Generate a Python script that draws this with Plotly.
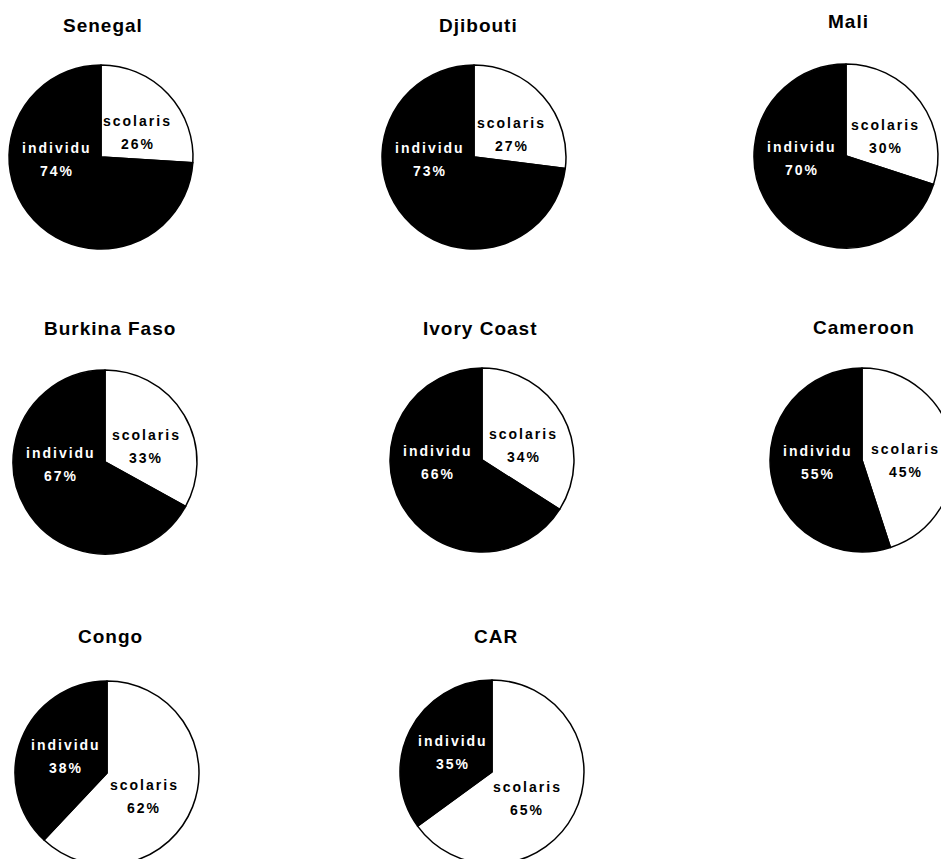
import math
import plotly.graph_objects as go

# ---- data ----
countries = ["Senegal", "Djibouti", "Mali", "Burkina Faso",
             "Ivory Coast", "Cameroon", "Congo", "CAR"]
categories = ["scolaris", "individu"]
scolaris = [26, 27, 30, 33, 34, 45, 62, 65]
individu = [74, 73, 70, 67, 66, 55, 38, 35]

# ---- layout constants (pixels from top-left of page) ----
W, H = 960, 880
centers = [(101, 157), (474, 157), (846, 156),
           (105, 462), (482, 460), (862, 460),
           (107, 773), (492, 772)]
R = 92
title_pos = [(103, 25), (478, 25), (848, 21),
             (110, 328), (480, 328), (864, 327),
             (110, 636), (496, 636)]

FONT = "Liberation Sans, Arial, sans-serif"


def px2paper(x, y):
    return x / W, 1 - y / H


def spaced(s, sp):
    return f"<span style='letter-spacing:{sp}px'>{s}</span>"


fig = go.Figure()
annotations = []

for i, name in enumerate(countries):
    cx, cy = centers[i]
    vals = [scolaris[i], individu[i]]
    x0, y1 = px2paper(cx - R, cy - R)
    x1, y0 = px2paper(cx + R, cy + R)
    fig.add_trace(go.Pie(
        labels=categories,
        values=vals,
        sort=False,
        direction="clockwise",
        rotation=0,
        marker=dict(colors=["#ffffff", "#000000"],
                    line=dict(color="#000000", width=1.5)),
        textinfo="none",
        hoverinfo="skip",
        showlegend=False,
        domain=dict(x=[x0, x1], y=[y0, y1]),
    ))

    # slice label placement (clockwise degrees from 12 o'clock)
    total = sum(vals)
    a_s = 360 * vals[0] / total
    bis_s = a_s / 2 + 10
    bis_i = max((a_s + 360) / 2, 267)
    for ang, lab, v, col in [(bis_s, categories[0], vals[0], "black"),
                             (bis_i, categories[1], vals[1], "white")]:
        d = 44
        lx = cx + d * math.sin(math.radians(ang))
        ly = cy - d * math.cos(math.radians(ang))
        for dy, txt in [(-11.5, lab), (11.5, f"{v}%")]:
            px, py = px2paper(lx, ly + dy)
            annotations.append(dict(
                x=px, y=py, xref="paper", yref="paper",
                xanchor="center", yanchor="middle", showarrow=False,
                text=spaced(txt, 2),
                font=dict(family=FONT, size=14, color=col, weight="bold"),
            ))

    tx, ty = px2paper(*title_pos[i])
    annotations.append(dict(
        x=tx, y=ty, xref="paper", yref="paper",
        xanchor="center", yanchor="middle", showarrow=False,
        text=spaced(name, 1),
        font=dict(family=FONT, size=19, color="black", weight="bold"),
    ))

fig.update_layout(
    width=W, height=H,
    margin=dict(l=0, r=0, t=0, b=0),
    paper_bgcolor="white",
    plot_bgcolor="white",
    annotations=annotations,
    showlegend=False,
)

fig.write_html(
    "out.html",
    config={"displayModeBar": False},
    post_script="document.body.style.margin='0';document.body.style.overflow='hidden';",
)
